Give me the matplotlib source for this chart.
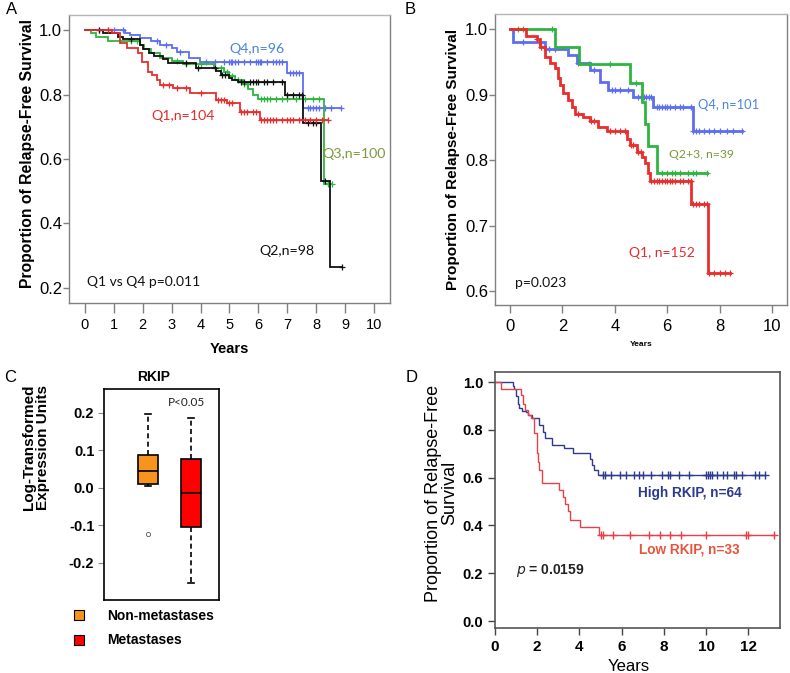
import numpy as np
import matplotlib
matplotlib.use("Agg")
import matplotlib.pyplot as plt
from matplotlib.lines import Line2D

plt.rcParams['font.family'] = ['Liberation Sans', 'DejaVu Sans']

# ---------------- Panel A data (time of event, survival after event) ----------------
A_q4_t = [1.39, 1.56, 1.9, 2.3, 2.6, 3.0, 3.2, 3.6, 3.98, 6.99, 7.54]
A_q4_s = [0.992, 0.984, 0.975, 0.965, 0.955, 0.945, 0.933, 0.912, 0.900, 0.868, 0.758]
A_q4_c = [0.5, 0.8, 1.0, 1.3, 2.5, 2.8, 3.3, 4.2, 4.5, 4.8, 5.0, 5.05, 5.1, 5.2, 5.3, 5.5, 5.7,
          5.9, 6.0, 6.05, 6.1, 6.3, 6.5, 6.6, 6.7, 6.8, 7.1, 7.2, 7.3, 7.4, 7.7, 7.8, 7.9, 8.0,
          8.1, 8.3, 8.5, 8.85]

A_q2_t = [0.63, 1.15, 1.3, 1.9, 2.0, 2.2, 2.4, 2.7, 2.88, 3.85, 4.55, 4.7, 5.0, 5.1, 5.3, 6.92,
          7.55, 8.15, 8.48]
A_q2_s = [0.99, 0.98, 0.971, 0.955, 0.94, 0.93, 0.92, 0.91, 0.897, 0.883, 0.873, 0.862, 0.852,
          0.845, 0.838, 0.799, 0.711, 0.532, 0.266]
A_q2_c = [0.5, 1.6, 3.5, 3.9, 4.5, 4.75, 4.85, 5.4, 5.5, 5.7, 5.8, 5.9, 6.0, 6.2, 6.3, 6.5,
          6.8, 7.0, 7.2, 7.4, 7.5, 7.7, 7.9, 8.0, 8.3, 8.9]

A_q3_t = [0.2, 0.4, 0.8, 1.9, 2.05, 2.3, 2.6, 3.0, 3.4, 4.45, 4.8, 5.0, 5.2, 5.45, 5.65, 5.8,
          6.0, 8.27]
A_q3_s = [0.99, 0.978, 0.965, 0.955, 0.94, 0.928, 0.915, 0.903, 0.895, 0.882, 0.87, 0.858,
          0.846, 0.832, 0.818, 0.80, 0.785, 0.522]
A_q3_c = [1.6, 1.8, 3.2, 3.5, 4.0, 4.7, 4.9, 5.1, 5.3, 5.5, 5.6, 6.1, 6.2, 6.3, 6.4, 6.6,
          6.8, 7.0, 7.3, 7.6, 7.9, 8.1, 8.4, 8.55]

A_q1_t = [0.93, 1.2, 1.45, 1.83, 1.97, 2.18, 2.32, 2.49, 2.6, 3.05, 3.63, 4.55, 4.9, 5.36,
          6.05]
A_q1_s = [0.99, 0.96, 0.944, 0.928, 0.90, 0.87, 0.86, 0.845, 0.83, 0.82, 0.805, 0.783, 0.775,
          0.745, 0.721]
A_q1_c = [0.8, 2.7, 2.9, 3.2, 3.5, 4.0, 4.6, 4.7, 4.8, 5.0, 5.1, 5.4, 5.5, 5.6, 5.8, 5.9,
          6.1, 6.2, 6.3, 6.4, 6.5, 6.6, 6.8, 7.0, 7.1, 7.2, 7.4, 7.6, 7.8, 8.0, 8.2, 8.4]

# ---------------- Panel B data ----------------
B_q4_t = [0.12, 1.34, 2.23, 2.55, 3.05, 3.44, 3.74, 4.7, 5.46, 6.98]
B_q4_s = [0.98, 0.97, 0.96, 0.948, 0.937, 0.92, 0.907, 0.897, 0.881, 0.844]
B_q4_c = [0.5, 1.1, 1.5, 1.7, 2.6, 3.2, 3.9, 4.0, 4.2, 4.5, 4.9, 5.0, 5.1, 5.2, 5.3, 5.4,
          5.6, 5.7, 5.8, 5.9, 6.0, 6.1, 6.3, 6.5, 6.6, 6.9, 7.0, 7.1, 7.2, 7.4, 7.6, 7.8, 8.0,
          8.3, 8.5, 8.85]

B_q23_t = [1.72, 2.63, 4.58, 5.04, 5.15, 5.27, 5.6]
B_q23_s = [0.973, 0.946, 0.918, 0.888, 0.855, 0.821, 0.78]
B_q23_c = [0.3, 0.5, 1.6, 3.0, 3.8, 4.8, 5.8, 6.0, 6.2, 6.3, 6.5, 6.8, 7.0, 7.1, 7.5]

B_q1_t = [0.6, 1.02, 1.15, 1.34, 1.53, 1.72, 1.83, 1.91, 2.02, 2.21, 2.36, 2.48, 2.79, 3.05,
          3.36, 3.7, 4.47, 4.58, 4.85, 5.04, 5.15, 5.27, 5.34, 6.91, 7.56]
B_q1_s = [0.99, 0.985, 0.973, 0.958, 0.948, 0.94, 0.925, 0.915, 0.902, 0.892, 0.881, 0.871,
          0.866, 0.859, 0.851, 0.844, 0.833, 0.823, 0.813, 0.805, 0.795, 0.78, 0.768, 0.733,
          0.628]
B_q1_c = [1.05, 1.2, 2.6, 3.1, 3.2, 3.8, 4.0, 4.2, 4.4, 4.6, 4.7, 4.9, 5.0, 5.4, 5.5, 5.6,
          5.7, 5.8, 5.9, 6.0, 6.1, 6.2, 6.3, 6.5, 6.6, 6.8, 6.9, 7.0, 7.1, 7.2, 7.4, 7.5, 7.6,
          7.8, 8.0, 8.2, 8.4]

# ---------------- Panel C data (box statistics) ----------------
C_groups = ['Non-metastases', 'Metastases']
C_colors = ['#f7941d', '#ff0000']
C_whislo = [0.005, -0.253]
C_q1 = [0.011, -0.104]
C_med = [0.045, -0.013]
C_q3 = [0.088, 0.077]
C_whishi = [0.197, 0.187]
C_fliers = [[-0.123], []]

# ---------------- Panel D data ----------------
D_hi_t = [0.85, 0.9, 0.99, 1.08, 1.15, 1.3, 1.46, 1.57, 1.77, 2.1, 2.26, 2.36, 2.69, 3.26,
          3.68, 4.5, 4.6, 4.68, 4.86]
D_hi_s = [0.985, 0.97, 0.94, 0.91, 0.89, 0.88, 0.875, 0.862, 0.85, 0.82, 0.792, 0.766, 0.736,
          0.723, 0.704, 0.68, 0.653, 0.632, 0.609]
D_hi_c = [5.1, 5.2, 5.5, 5.9, 6.2, 6.6, 6.8, 7.0, 7.4, 7.9, 8.2, 8.3, 8.7, 9.2, 10.0, 10.1,
          10.2, 10.3, 10.5, 10.8, 11.0, 11.3, 11.4, 11.7, 12.3, 12.5, 12.8]

D_lo_t = [0.28, 1.23, 1.33, 1.43, 1.55, 1.7, 1.85, 1.97, 2.02, 2.09, 2.22, 3.03, 3.2, 3.31,
          3.45, 3.55, 4.02, 4.92]
D_lo_s = [0.97, 0.945, 0.91, 0.883, 0.862, 0.848, 0.787, 0.703, 0.667, 0.632, 0.577, 0.548,
          0.52, 0.49, 0.46, 0.423, 0.392, 0.362]
D_lo_c = [5.0, 5.1, 5.6, 6.4, 7.3, 7.8, 8.3, 8.8, 10.0, 11.9, 12.0, 13.2]


def km(ax, t, s, c, color, lw, ms, mew):
    t = np.asarray(t, float)
    s = np.asarray(s, float)
    c = np.asarray(c, float)
    end = max(c.max(), t.max())
    xs = np.concatenate([[0.0], t, [end]])
    ys = np.concatenate([[1.0], s, [s[-1]]])
    ax.step(xs, ys, where='post', color=color, lw=lw, solid_joinstyle='miter')
    idx = np.searchsorted(t, c, side='right')
    cs = np.concatenate([[1.0], s])[idx]
    ax.plot(c, cs, '+', color=color, ms=ms, mew=mew, linestyle='none')


def gray_frame(ax, col='#808080'):
    for sp in ax.spines.values():
        sp.set_color(col)
        sp.set_linewidth(1.0)
    ax.spines['top'].set_color('#b5b5b5')
    ax.tick_params(color=col, direction='out', width=1)


W, H = 790, 673
fig = plt.figure(figsize=(W / 100, H / 100), dpi=100)


def axes_px(l, t, r, b):
    return fig.add_axes([l / W, 1 - b / H, (r - l) / W, (b - t) / H])


calibri = ['Lato', 'DejaVu Sans']

# ---------------- Panel A ----------------
axA = axes_px(69, 15, 390, 303)
km(axA, A_q4_t, A_q4_s, A_q4_c, '#5d6ff0', 1.3, 5, 0.9)
km(axA, A_q3_t, A_q3_s, A_q3_c, '#2fb441', 1.3, 5, 0.9)
km(axA, A_q2_t, A_q2_s, A_q2_c, '#111111', 1.3, 5, 0.9)
km(axA, A_q1_t, A_q1_s, A_q1_c, '#ea2d2d', 1.3, 5, 0.9)
axA.set_xlim(-0.55, 10.55)
axA.set_ylim(0.153, 1.047)
axA.set_xticks(range(0, 11))
axA.set_yticks([0.2, 0.4, 0.6, 0.8, 1.0])
axA.set_yticklabels(['0.2', '0.4', '0.6', '0.8', '1.0'])
gray_frame(axA)
axA.tick_params(axis='y', labelsize=12, pad=1, length=4)
axA.tick_params(axis='x', labelsize=10.5, pad=4, length=7)
axA.set_xlabel('Years', fontsize=10.5, fontweight='bold')
axA.xaxis.set_label_coords(0.5, -0.135)
axA.set_ylabel('Proportion of Relapse-Free Survival', fontsize=11.3, fontweight='bold')
axA.yaxis.set_label_coords(-0.105, 0.52)
axA.text(5.0, 0.941, 'Q4,n=96', color='#4a86d8', fontsize=10.2, family=calibri, va='center')
axA.text(2.3, 0.733, 'Q1,n=104', color='#e52b2b', fontsize=10.2, family=calibri, va='center')
axA.text(8.2, 0.616, 'Q3,n=100', color='#7a9a3a', fontsize=10.2, family=calibri, va='center')
axA.text(6.05, 0.315, 'Q2,n=98', color='#111111', fontsize=10.2, family=calibri, va='center')
axA.text(0.07, 0.219, 'Q1 vs Q4 p=0.011', color='#111111', fontsize=10, family=calibri,
         va='center')

# ---------------- Panel B ----------------
axB = axes_px(495, 14, 787, 305)
km(axB, B_q4_t, B_q4_s, B_q4_c, '#5d6ff0', 2.0, 5, 0.9)
km(axB, B_q23_t, B_q23_s, B_q23_c, '#2fb441', 2.0, 5, 0.9)
km(axB, B_q1_t, B_q1_s, B_q1_c, '#ea2d2d', 2.0, 5, 0.9)
axB.set_xlim(-0.57, 10.57)
axB.set_ylim(0.579, 1.023)
axB.set_xticks(range(0, 11, 2))
axB.set_yticks([0.6, 0.7, 0.8, 0.9, 1.0])
axB.set_yticklabels(['0.6', '0.7', '0.8', '0.9', '1.0'])
gray_frame(axB)
axB.tick_params(axis='y', labelsize=12, pad=1, length=4)
axB.tick_params(axis='x', labelsize=12, pad=4, length=6)
axB.set_xlabel('Years', fontsize=6, fontweight='bold')
axB.xaxis.set_label_coords(0.5, -0.125)
axB.set_ylabel('Proportion of Relapse-Free Survival', fontsize=11, fontweight='bold')
axB.yaxis.set_label_coords(-0.12, 0.5)
axB.text(7.18, 0.884, 'Q4, n=101', color='#4a86d8', fontsize=9.3, family=calibri,
         va='center')
axB.text(6.07, 0.809, 'Q2+3, n=39', color='#7a9a3a', fontsize=8.8, family=calibri,
         va='center')
axB.text(4.54, 0.658, 'Q1, n=152', color='#e52b2b', fontsize=10, family=calibri, va='center')
axB.text(0.19, 0.612, 'p=0.023', color='#111111', fontsize=10, family=calibri, va='center')

# ---------------- Panel C ----------------
axC = axes_px(104, 389, 219, 600)
stats = []
for i in range(2):
    stats.append(dict(label=C_groups[i], whislo=C_whislo[i], q1=C_q1[i], med=C_med[i],
                      q3=C_q3[i], whishi=C_whishi[i], fliers=C_fliers[i]))
bp = axC.bxp(stats, positions=[1, 2], widths=0.47, patch_artist=True,
             boxprops=dict(edgecolor='black', linewidth=1.2),
             medianprops=dict(color='black', linewidth=1.2),
             whiskerprops=dict(color='black', linestyle=(0, (3, 2)), linewidth=1.2),
             capprops=dict(color='black', linewidth=1.2),
             flierprops=dict(marker='o', markersize=3, markerfacecolor='white',
                             markeredgecolor='#555555', markeredgewidth=0.6),
             capwidths=0.12)
for patch, col in zip(bp['boxes'], C_colors):
    patch.set_facecolor(col)
axC.set_xlim(-0.02, 2.65)
axC.set_ylim(-0.299, 0.264)
axC.set_xticks([])
axC.set_yticks([-0.2, -0.1, 0.0, 0.1, 0.2])
axC.set_yticklabels(['-0.2', '-0.1', '0.0', '0.1', '0.2'])
for lab in axC.get_yticklabels():
    lab.set_fontweight('bold')
axC.tick_params(axis='y', labelsize=10.5, length=4, color='#888888', pad=3)
for sp in axC.spines.values():
    sp.set_color('black')
    sp.set_linewidth(1.2)
axC.set_ylabel('Log-Transformed\nExpression Units', fontsize=11, fontweight='bold',
               linespacing=0.95)
axC.yaxis.set_label_coords(-0.47, 0.725)
axC.text(0.435, 1.055, 'RKIP', transform=axC.transAxes, ha='center', va='center',
         fontsize=10, fontweight='bold')
axC.text(1.47, 0.229, 'P<0.05', fontsize=8.5, family=calibri, color='#222222', va='center')
handles = [Line2D([], [], marker='s', linestyle='none', markersize=7,
                  markerfacecolor=c, markeredgecolor='black', markeredgewidth=0.8)
           for c in C_colors]
fig.legend(handles, C_groups, loc='upper left', bbox_to_anchor=(68 / W, 1 - 609 / H),
           frameon=False, prop=dict(size=10, weight='bold'), handletextpad=1.2,
           handlelength=1.6, labelspacing=0.75, borderaxespad=0, borderpad=0)

# ---------------- Panel D ----------------
axD = axes_px(495, 372, 780, 628)
km(axD, D_hi_t, D_hi_s, D_hi_c, '#2e3a8c', 1.0, 6, 1.0)
km(axD, D_lo_t, D_lo_s, D_lo_c, '#e8404a', 1.0, 6, 1.0)
axD.set_xlim(0.05, 13.5)
axD.set_ylim(-0.029, 1.042)
axD.set_xticks(range(0, 13, 2))
axD.set_yticks([0.0, 0.2, 0.4, 0.6, 0.8, 1.0])
axD.set_yticklabels(['0.0', '0.2', '0.4', '0.6', '0.8', '1.0'])
for lab in axD.get_yticklabels() + axD.get_xticklabels():
    lab.set_fontweight('bold')
axD.tick_params(axis='y', labelsize=10.5, length=5, color='#444444', width=1)
axD.tick_params(axis='x', labelsize=11, length=5, color='#444444', width=1)
for sp in axD.spines.values():
    sp.set_color('#555555')
    sp.set_linewidth(1.2)
axD.set_xlabel('Years', fontsize=12)
axD.xaxis.set_label_coords(0.47, -0.12)
axD.set_ylabel('Proportion of Relapse-Free\nSurvival', fontsize=13, linespacing=0.95)
axD.yaxis.set_label_coords(-0.13, 0.527)
axD.text(6.75, 0.535, 'High RKIP, n=64', color='#2b3a8f', fontsize=9.8, fontweight='bold',
         va='center')
axD.text(6.8, 0.301, 'Low RKIP, n=33', color='#e8553e', fontsize=9.8, fontweight='bold',
         va='center')
axD.text(1.0, 0.213, r'$\bf{\it{p}}$ = 0.0159', color='#222222', fontsize=10,
         fontweight='bold', va='center')

# ---------------- panel letters ----------------
for lab, x, y in [('A', 12, 10), ('B', 410, 10), ('C', 10, 377), ('D', 412, 378)]:
    fig.text(x / W, 1 - y / H, lab, fontsize=12, ha='center', va='center')

fig.savefig('out.png', dpi=100)
